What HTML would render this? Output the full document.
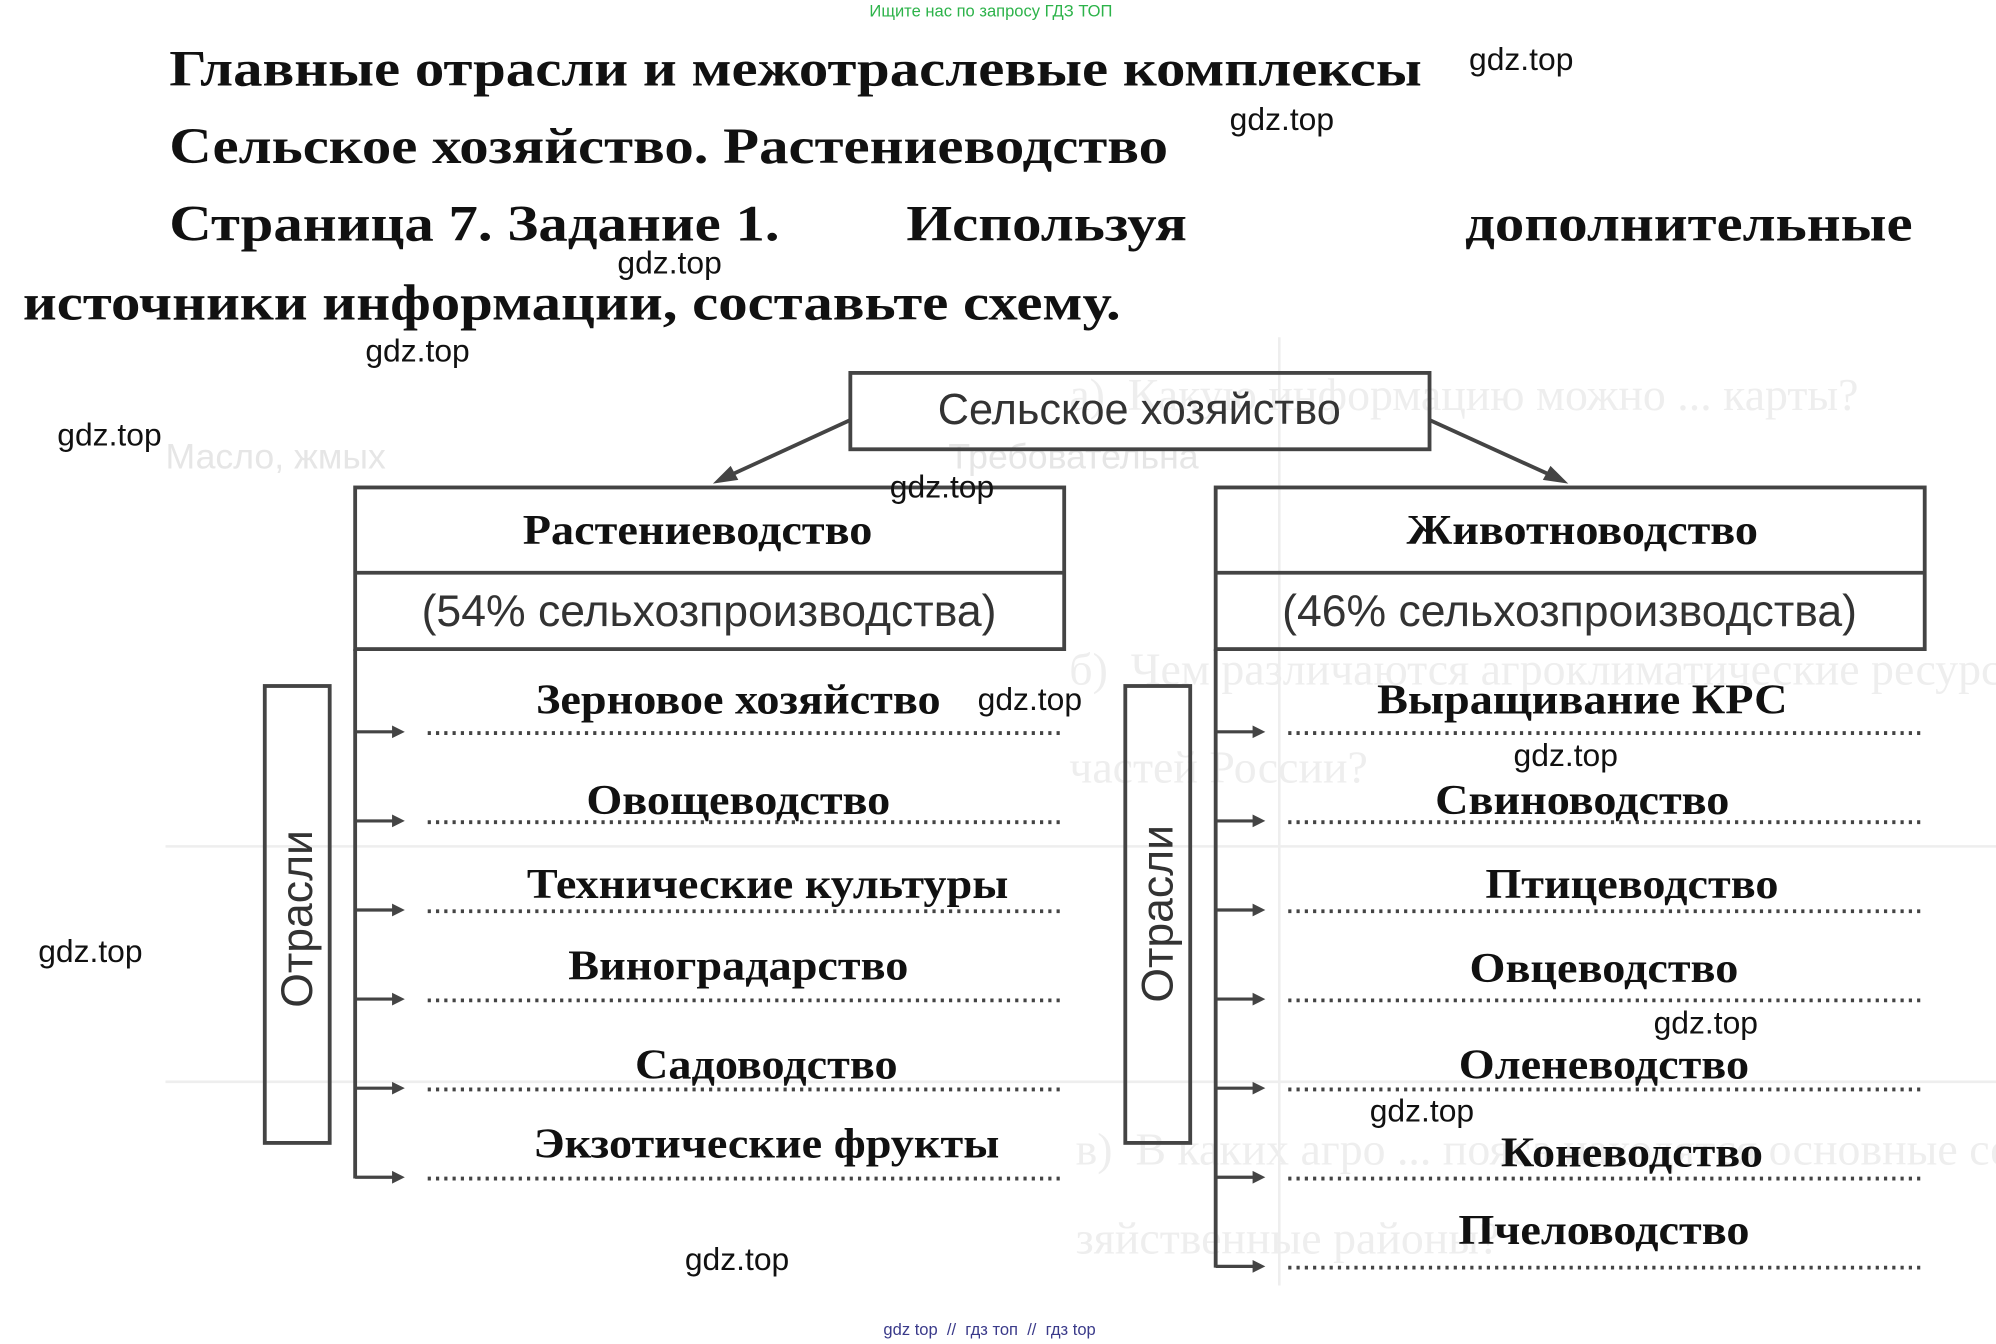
<!DOCTYPE html>
<html><head><meta charset="utf-8"><style>
html,body{margin:0;padding:0;background:#fff;overflow:hidden}
#w{width:1996px;height:1344px;position:relative;overflow:hidden}
#s{position:absolute;left:0;top:0;width:1568px;height:1056px;transform:scale(1.27296,1.27273);transform-origin:0 0}
.t{position:absolute;font-family:"Liberation Serif",serif;font-weight:bold;font-size:40px;color:#111;white-space:nowrap;line-height:1;transform:scaleX(1.155);transform-origin:0 0}
.l{position:absolute;font-family:"Liberation Serif",serif;font-weight:bold;font-size:33px;color:#111;white-space:nowrap;line-height:1;transform:translate(-50%,-50%) scaleX(1.1)}
.g{position:absolute;font-family:"Liberation Sans",sans-serif;font-size:25px;color:#111;white-space:nowrap;line-height:1}
.f{position:absolute;font-family:"Liberation Sans",sans-serif;color:#ccc;white-space:nowrap;line-height:1}
</style></head><body><div id="w"><div id="s">
<div class="f" style="left:840px;top:292px;font-family:'Liberation Serif',serif;font-size:36px;color:#eeeeee">а)&nbsp; Какую информацию можно ... карты?</div>
<div class="f" style="left:840px;top:508px;font-family:'Liberation Serif',serif;font-size:36px;color:#eeeeee">б)&nbsp; Чем различаются агроклиматические ресурсы европейской и азиатской</div>
<div class="f" style="left:840px;top:585px;font-family:'Liberation Serif',serif;font-size:36px;color:#eeeeee">частей России?</div>
<div class="f" style="left:845px;top:885px;font-family:'Liberation Serif',serif;font-size:36px;color:#eeeeee">в)&nbsp; В каких агро ... пояса находятся основные сельскохо-</div>
<div class="f" style="left:845px;top:955px;font-family:'Liberation Serif',serif;font-size:36px;color:#eeeeee">зяйственные районы?</div>
<div class="f" style="left:130px;top:345px;font-size:28px;color:#e6e6e6">Масло, жмых</div>
<div class="f" style="left:745px;top:345px;font-size:28px;color:#e6e6e6">Требовательна</div>
<svg style="position:absolute;left:0;top:0" width="1568" height="1056">
<g stroke="#eeeeee" stroke-width="2"><line x1="130" y1="665" x2="1568" y2="665"/><line x1="130" y1="850" x2="1568" y2="850"/><line x1="1005" y1="265" x2="1005" y2="1010"/></g>
<g fill="none" stroke="#444" stroke-width="3">
<rect x="668" y="293" width="455" height="60"/>
<rect x="279" y="383" width="557" height="127"/><line x1="279" y1="450" x2="836" y2="450"/>
<rect x="955" y="383" width="557" height="127"/><line x1="955" y1="450" x2="1512" y2="450"/>
<rect x="208" y="539" width="51" height="359"/>
<rect x="884" y="539" width="51" height="359"/>
<line x1="279" y1="510" x2="279" y2="926"/>
<line x1="955" y1="510" x2="955" y2="996"/>
<line x1="668" y1="330" x2="568" y2="376"/>
<line x1="1123" y1="330" x2="1224" y2="376"/>
</g>
<g fill="#444"><polygon points="560,380 574,366 580,377"/><polygon points="1232,380 1212,377 1218,366"/></g>
<g stroke="#444" stroke-width="2.5">
<line x1="279" y1="575" x2="312" y2="575"/><line x1="279" y1="645" x2="312" y2="645"/><line x1="279" y1="715" x2="312" y2="715"/><line x1="279" y1="785" x2="312" y2="785"/><line x1="279" y1="855" x2="312" y2="855"/><line x1="279" y1="925" x2="312" y2="925"/>
<line x1="955" y1="575" x2="988" y2="575"/><line x1="955" y1="645" x2="988" y2="645"/><line x1="955" y1="715" x2="988" y2="715"/><line x1="955" y1="785" x2="988" y2="785"/><line x1="955" y1="855" x2="988" y2="855"/><line x1="955" y1="925" x2="988" y2="925"/><line x1="955" y1="995" x2="988" y2="995"/>
</g>
<g fill="#444">
<polygon points="318,575 308,570 308,580"/><polygon points="318,645 308,640 308,650"/><polygon points="318,715 308,710 308,720"/><polygon points="318,785 308,780 308,790"/><polygon points="318,855 308,850 308,860"/><polygon points="318,925 308,920 308,930"/>
<polygon points="994,575 984,570 984,580"/><polygon points="994,645 984,640 984,650"/><polygon points="994,715 984,710 984,720"/><polygon points="994,785 984,780 984,790"/><polygon points="994,855 984,850 984,860"/><polygon points="994,925 984,920 984,930"/><polygon points="994,995 984,990 984,1000"/>
</g>
<g stroke="#444" stroke-width="3" stroke-dasharray="2.5 4">
<line x1="336" y1="576" x2="836" y2="576"/><line x1="336" y1="646" x2="836" y2="646"/><line x1="336" y1="716" x2="836" y2="716"/><line x1="336" y1="786" x2="836" y2="786"/><line x1="336" y1="856" x2="836" y2="856"/><line x1="336" y1="926" x2="836" y2="926"/>
<line x1="1012" y1="576" x2="1512" y2="576"/><line x1="1012" y1="646" x2="1512" y2="646"/><line x1="1012" y1="716" x2="1512" y2="716"/><line x1="1012" y1="786" x2="1512" y2="786"/><line x1="1012" y1="856" x2="1512" y2="856"/><line x1="1012" y1="926" x2="1512" y2="926"/><line x1="1012" y1="996" x2="1512" y2="996"/>
</g>
<g font-family="Liberation Sans, sans-serif" font-size="35" fill="#333" text-anchor="middle">
<text x="895" y="333" font-size="34">Сельское хозяйство</text>
<text x="557" y="492">(54% сельхозпроизводства)</text>
<text x="1233" y="492">(46% сельхозпроизводства)</text>
<text transform="translate(245,722) rotate(-90)">Отрасли</text>
<text transform="translate(921,718) rotate(-90)">Отрасли</text>
</g>
</svg>
<div style="position:absolute;left:683px;top:1px;font-family:'Liberation Sans',sans-serif;font-size:13px;color:#2db34a">Ищите нас по запросу ГДЗ ТОП</div>
<div class="t" style="left:133px;top:34px">Главные отрасли и межотраслевые комплексы</div>
<div class="t" style="left:133px;top:95px">Сельское хозяйство. Растениеводство</div>
<div class="t" style="left:133px;top:156px">Страница 7. Задание 1.</div>
<div class="t" style="left:712px;top:156px">Используя</div>
<div class="t" style="left:1151px;top:156px">дополнительные</div>
<div class="t" style="left:18px;top:218px">источники информации, составьте схему.</div>
<div class="l" style="left:548px;top:418px">Растениеводство</div>
<div class="l" style="left:1243px;top:418px">Животноводство</div>
<div class="l" style="left:580px;top:551px">Зерновое хозяйство</div>
<div class="l" style="left:580px;top:630px">Овощеводство</div>
<div class="l" style="left:603px;top:696px">Технические культуры</div>
<div class="l" style="left:580px;top:760px">Виноградарство</div>
<div class="l" style="left:602px;top:838px">Садоводство</div>
<div class="l" style="left:602px;top:900px">Экзотические фрукты</div>
<div class="l" style="left:1243px;top:551px">Выращивание КРС</div>
<div class="l" style="left:1243px;top:630px">Свиноводство</div>
<div class="l" style="left:1282px;top:696px">Птицеводство</div>
<div class="l" style="left:1260px;top:762px">Овцеводство</div>
<div class="l" style="left:1260px;top:838px">Оленеводство</div>
<div class="l" style="left:1282px;top:907px">Коневодство</div>
<div class="l" style="left:1260px;top:968px">Пчеловодство</div>
<div class="g" style="left:1154px;top:35px">gdz.top</div>
<div class="g" style="left:966px;top:82px">gdz.top</div>
<div class="g" style="left:485px;top:195px">gdz.top</div>
<div class="g" style="left:287px;top:264px">gdz.top</div>
<div class="g" style="left:45px;top:330px">gdz.top</div>
<div class="g" style="left:699px;top:371px">gdz.top</div>
<div class="g" style="left:768px;top:538px">gdz.top</div>
<div class="g" style="left:1189px;top:582px">gdz.top</div>
<div class="g" style="left:30px;top:736px">gdz.top</div>
<div class="g" style="left:1299px;top:792px">gdz.top</div>
<div class="g" style="left:1076px;top:861px">gdz.top</div>
<div class="g" style="left:538px;top:978px">gdz.top</div>
<div style="position:absolute;left:694px;top:1037px;font-family:'Liberation Sans',sans-serif;font-size:13px;color:#3a3a8a">gdz top &nbsp;// &nbsp;гдз топ &nbsp;// &nbsp;гдз top</div>
</div></div></body></html>
